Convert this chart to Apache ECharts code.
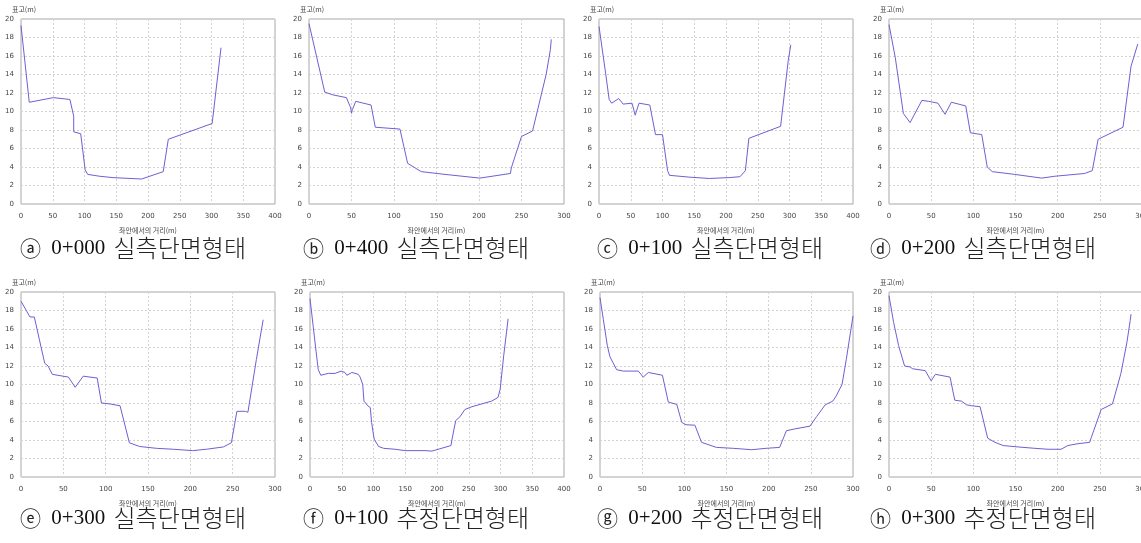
<!DOCTYPE html>
<html>
<head>
<meta charset="utf-8">
<script src="https://cdn.jsdelivr.net/npm/echarts@6/dist/echarts.min.js"></script>
<style>
html,body{margin:0;padding:0;background:#fff;}
#c{width:1141px;height:543px;}
</style>
</head>
<body>
<div id="c"></div>
<script>
// ---- data (distance from left bank [m], elevation [m]) ----
const dist_a = [0, 13, 51, 77, 78, 83, 83, 94, 101, 105, 124, 145, 190, 224, 232, 301, 315];
const elev_a = [19.3, 11.0, 11.5, 11.3, 11.35, 9.5, 7.8, 7.6, 3.7, 3.2, 3.0, 2.85, 2.7, 3.5, 7.0, 8.7, 16.9];

const dist_b = [0, 18.5, 28, 44, 49, 50, 51, 55, 73, 78, 107, 116, 132, 160, 201, 237, 238, 250, 263, 279, 284, 285];
const elev_b = [19.5, 12.1, 11.8, 11.5, 10.4, 9.8, 10.2, 11.1, 10.7, 8.3, 8.1, 4.4, 3.5, 3.2, 2.8, 3.3, 3.9, 7.3, 7.9, 14.0, 16.7, 17.8];

const dist_c = [0, 10.5, 16, 20, 31, 38, 52, 57, 63, 80, 81, 89, 100, 108, 111, 143, 174, 206, 222, 230.5, 236, 286, 298, 302];
const elev_c = [19.2, 14.1, 11.3, 10.9, 11.4, 10.8, 10.9, 9.6, 10.9, 10.7, 10.9, 7.5, 7.5, 3.6, 3.1, 2.9, 2.76, 2.86, 2.95, 3.6, 7.1, 8.4, 15.5, 17.2];

const dist_d = [0, 7.5, 17, 25, 39, 47, 58, 66.5, 74, 91, 96.5, 110, 116.5, 122.5, 149, 181, 196.5, 232, 241, 248, 277.5, 287, 295];
const elev_d = [19.4, 15.8, 9.8, 8.8, 11.2, 11.1, 10.9, 9.7, 11.0, 10.6, 7.7, 7.5, 4.0, 3.5, 3.2, 2.8, 3.0, 3.3, 3.6, 7.0, 8.3, 14.9, 17.3];

const dist_e = [0, 10.6, 15.7, 21.6, 28, 32, 37, 56, 58, 64, 73.5, 90, 95, 105, 117, 128, 140, 160, 180, 202.5, 219, 239, 248.5, 255, 265, 268, 278, 286];
const elev_e = [19.0, 17.3, 17.3, 14.9, 12.3, 12.0, 11.1, 10.8, 10.6, 9.7, 10.9, 10.7, 8.0, 7.9, 7.7, 3.7, 3.3, 3.1, 3.0, 2.85, 3.0, 3.25, 3.7, 7.1, 7.1, 7.0, 12.7, 17.0];

const dist_f = [0, 5, 9.5, 13, 17, 29, 39.5, 49, 55, 58, 66, 76, 79, 83, 85, 91, 95, 97, 101, 108, 116, 134, 150, 181, 192, 202, 222, 224, 229.5, 236, 244, 255, 286, 296, 299.5, 305, 312];
const elev_f = [19.3, 16.3, 13.6, 11.6, 11.0, 11.2, 11.2, 11.45, 11.3, 11.0, 11.3, 11.1, 10.8, 10.0, 8.2, 7.7, 7.5, 5.9, 4.1, 3.3, 3.1, 3.0, 2.85, 2.85, 2.8, 3.0, 3.4, 4.2, 6.1, 6.5, 7.3, 7.6, 8.2, 8.6, 9.5, 13.1, 17.1];

const dist_g = [0, 4, 8.7, 11.8, 19.7, 27.6, 45.4, 51.3, 57.3, 74, 81, 91, 97, 102, 112.5, 120.4, 138, 158, 180, 197, 213, 221, 231, 249, 257, 267, 276, 280, 287, 292, 300];
const elev_g = [19.4, 17.0, 14.2, 13.0, 11.6, 11.45, 11.45, 10.8, 11.3, 11.0, 8.1, 7.85, 5.9, 5.65, 5.6, 3.75, 3.2, 3.1, 2.95, 3.1, 3.2, 5.0, 5.2, 5.5, 6.55, 7.8, 8.2, 8.75, 10.0, 12.7, 17.4];

const dist_h = [0, 5.5, 11.4, 18.5, 25, 28, 43, 50, 55, 72.4, 78, 86, 92, 98, 108, 117, 125.6, 135.4, 153, 173, 188.6, 204, 212, 224, 238, 240, 251.6, 265, 275, 282, 286, 287];
const elev_h = [19.6, 16.7, 14.2, 12.0, 11.9, 11.7, 11.5, 10.4, 11.1, 10.8, 8.3, 8.2, 7.8, 7.7, 7.6, 4.2, 3.75, 3.4, 3.25, 3.1, 3.0, 3.0, 3.4, 3.6, 3.75, 4.3, 7.3, 7.9, 11.2, 14.5, 16.9, 17.6];

const xMaxes = [400, 300, 400, 300, 300, 400, 300, 300];
const captionMarks = ['ⓐ', 'ⓑ', 'ⓒ', 'ⓓ', 'ⓔ', 'ⓕ', 'ⓖ', 'ⓗ'];
const captionStations = ['0+000', '0+400', '0+100', '0+200', '0+300', '0+100', '0+200', '0+300'];
const captionWords = ['실측단면형태', '실측단면형태', '실측단면형태', '실측단면형태', '실측단면형태', '추정단면형태', '추정단면형태', '추정단면형태'];
const yAxisName = '표고(m)';
const xAxisName = '좌안에서의 거리(m)';

// ---- layout ----
const gridBoxes = [
  [21, 19, 254], [309, 19, 255], [599, 19, 254], [889, 19, 253],
  [21, 292, 254], [310, 292, 254], [600, 292, 253], [889, 292, 253]
];
const GRID_H = 185;
const captionPos = [
  [20, 249], [303, 249], [597, 249], [870, 249],
  [20, 519], [303, 519], [597, 519], [870, 519]
];

const dists = [dist_a, dist_b, dist_c, dist_d, dist_e, dist_f, dist_g, dist_h];
const elevs = [elev_a, elev_b, elev_c, elev_d, elev_e, elev_f, elev_g, elev_h];

const tickFont = { fontSize: 7, color: '#444', fontFamily: 'DejaVu Sans, sans-serif' };
const splitStyle = { show: true, lineStyle: { color: '#d2d2d2', type: [2, 2], width: 1 } };

const grids = [], xAxes = [], yAxes = [], series = [], graphics = [];
for (let i = 0; i < 8; i++) {
  const [l, t, w] = gridBoxes[i];
  grids.push({ left: l, top: t, width: w, height: GRID_H, containLabel: false, outerBoundsMode: 'none',
    show: true, borderColor: '#a8a8a8', borderWidth: 1, backgroundColor: 'transparent' });
  xAxes.push({
    type: 'value', gridIndex: i, min: 0, max: xMaxes[i], interval: 50,
    axisLine: { show: false }, axisTick: { show: false },
    axisLabel: Object.assign({ margin: 9 }, tickFont, { showMinLabel: true, showMaxLabel: true }),
    splitLine: splitStyle,
    name: xAxisName, nameLocation: 'middle', nameGap: 23,
    nameTextStyle: { fontSize: 7, color: '#444', fontFamily: 'Noto Sans CJK KR, sans-serif' }
  });
  yAxes.push({
    type: 'value', gridIndex: i, min: 0, max: 20, interval: 2,
    axisLine: { show: false }, axisTick: { show: false },
    axisLabel: Object.assign({ margin: 7 }, tickFont),
    splitLine: splitStyle,
    name: yAxisName, nameLocation: 'end', nameGap: 6,
    nameTextStyle: { fontSize: 7, color: '#444', fontFamily: 'Noto Sans CJK KR, sans-serif', align: 'center', padding: [0, 0, 0, 6] }
  });
  const pts = dists[i].map((d, k) => [d, elevs[i][k]]);
  series.push({
    type: 'line', xAxisIndex: i, yAxisIndex: i, data: pts,
    showSymbol: false, symbol: 'none', smooth: false, silent: true, animation: false,
    lineStyle: { color: '#6b61d3', width: 1 }
  });
  graphics.push({
    type: 'text', left: captionPos[i][0], top: captionPos[i][1] - 13,
    style: {
      text: '{c|' + captionMarks[i] + '} {n|' + captionStations[i] + '} {h|' + captionWords[i] + '}',
      fill: '#111',
      rich: {
        c: { fontSize: 21, fontFamily: 'Noto Sans CJK KR, sans-serif', fill: '#222', padding: [0, 5, 0, 0] },
        n: { fontSize: 21, fontFamily: 'Liberation Serif, serif', fill: '#111', padding: [0, 5, 0, 2] },
        h: { fontSize: 24, fontFamily: 'Noto Sans CJK KR, sans-serif', fill: '#222', fontWeight: 300 }
      }
    }
  });
}

const chart = echarts.init(document.getElementById('c'), null, { renderer: 'canvas' });
chart.setOption({
  animation: false,
  backgroundColor: '#fff',
  grid: grids, xAxis: xAxes, yAxis: yAxes, series: series,
  graphic: graphics
});
</script>
</body>
</html>
